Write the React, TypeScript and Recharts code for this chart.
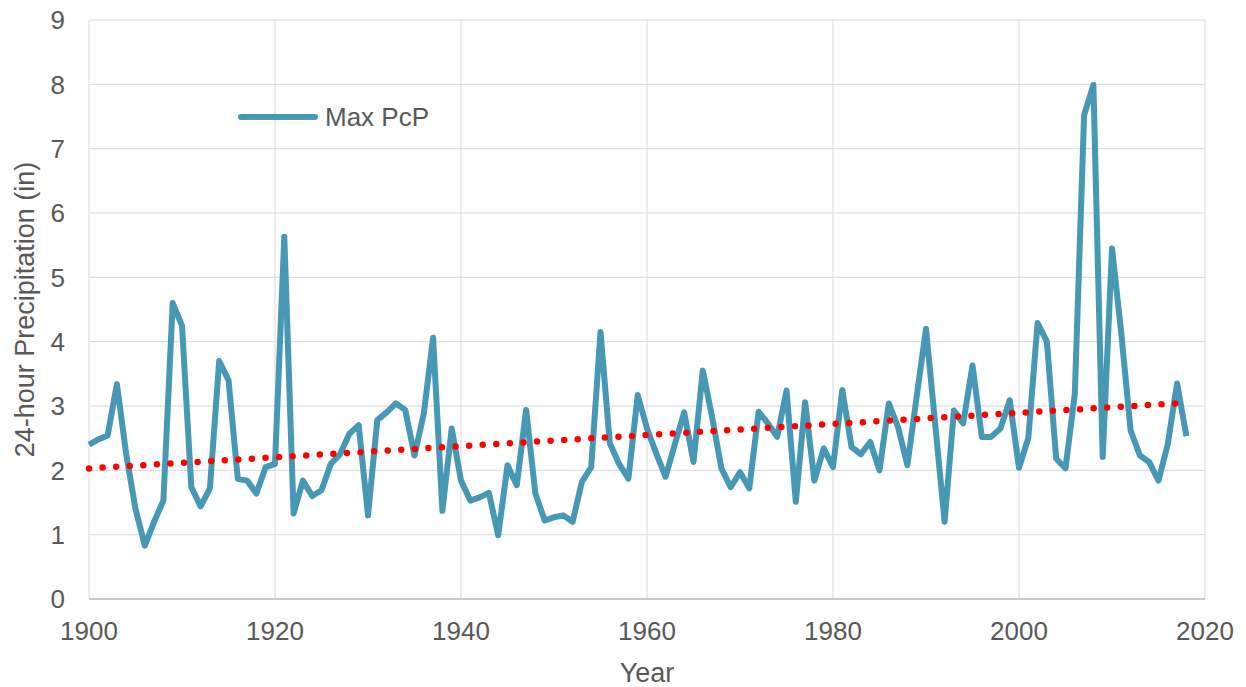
import React from 'react'
import {
  CartesianGrid,
  Legend,
  Line,
  LineChart,
  ReferenceLine,
  XAxis,
  YAxis
} from 'recharts'

// years of record
const years = [
  1900, 1901, 1902, 1903, 1904, 1905, 1906, 1907, 1908, 1909,
  1910, 1911, 1912, 1913, 1914, 1915, 1916, 1917, 1918, 1919,
  1920, 1921, 1922, 1923, 1924, 1925, 1926, 1927, 1928, 1929,
  1930, 1931, 1932, 1933, 1934, 1935, 1936, 1937, 1938, 1939,
  1940, 1941, 1942, 1943, 1944, 1945, 1946, 1947, 1948, 1949,
  1950, 1951, 1952, 1953, 1954, 1955, 1956, 1957, 1958, 1959,
  1960, 1961, 1962, 1963, 1964, 1965, 1966, 1967, 1968, 1969,
  1970, 1971, 1972, 1973, 1974, 1975, 1976, 1977, 1978, 1979,
  1980, 1981, 1982, 1983, 1984, 1985, 1986, 1987, 1988, 1989,
  1990, 1991, 1992, 1993, 1994, 1995, 1996, 1997, 1998, 1999,
  2000, 2001, 2002, 2003, 2004, 2005, 2006, 2007, 2008, 2009,
  2010, 2011, 2012, 2013, 2014, 2015, 2016, 2017, 2018
]

// max 24-hour precipitation (in)
const maxPcp = [
  2.4, 2.48, 2.54, 3.34, 2.25, 1.4, 0.83, 1.2, 1.53, 4.6,
  4.25, 1.74, 1.44, 1.72, 3.7, 3.4, 1.87, 1.84, 1.64, 2.05,
  2.1, 5.63, 1.33, 1.84, 1.6, 1.69, 2.1, 2.25, 2.57, 2.7,
  1.3, 2.78, 2.9, 3.04, 2.94, 2.23, 2.88, 4.06, 1.37, 2.65,
  1.84, 1.53, 1.58, 1.65, 0.99, 2.08, 1.77, 2.94, 1.64, 1.22,
  1.27, 1.3, 1.2, 1.82, 2.05, 4.15, 2.42, 2.1, 1.87, 3.17,
  2.65, 2.26, 1.9, 2.41, 2.9, 2.13, 3.55, 2.83, 2.03, 1.74,
  1.97, 1.72, 2.91, 2.73, 2.52, 3.24, 1.51, 3.06, 1.84, 2.34,
  2.05, 3.25, 2.36, 2.25, 2.44, 2.0, 3.04, 2.67, 2.08, 3.15,
  4.2, 2.7, 1.2, 2.93, 2.73, 3.63, 2.52, 2.52, 2.65, 3.09,
  2.04, 2.5, 4.29, 4.0, 2.18, 2.03, 3.19, 7.52, 7.99, 2.21,
  5.45, 4.13, 2.62, 2.23, 2.13, 1.84, 2.41, 3.35, 2.53
]

// linear trend end points
const trendStart = { year: 1900, value: 2.03 }
const trendEnd = { year: 2018, value: 3.05 }

const xTicks = [1900, 1920, 1940, 1960, 1980, 2000, 2020]
const yTicks = [0, 1, 2, 3, 4, 5, 6, 7, 8, 9]

const data = years.map((year, i) => ({ year, maxPcp: maxPcp[i] }))

const FONT = '"Liberation Sans", Arial, sans-serif'
const TEXT = '#595959'
const BLUE = '#4698B5'

function YTitle(props: any) {
  const { viewBox } = props
  const x = viewBox.x + 24
  const y = viewBox.y + viewBox.height / 2
  return (
    <text
      x={x}
      y={y}
      dy="0.36em"
      transform={`rotate(-90 ${x} ${y})`}
      textAnchor="middle"
      fill={TEXT}
      fontSize={27}
      fontFamily={FONT}
    >
      24-hour Precipitation (in)
    </text>
  )
}

function XTitle(props: any) {
  const { viewBox } = props
  const x = viewBox.x + viewBox.width / 2
  const y = viewBox.y + 73
  return (
    <text
      x={x}
      y={y}
      dy="0.36em"
      textAnchor="middle"
      fill={TEXT}
      fontSize={27}
      fontFamily={FONT}
    >
      Year
    </text>
  )
}

function LegendBox() {
  return (
    <div style={{ display: 'flex', alignItems: 'center', height: 30 }}>
      <svg width={80} height={10} style={{ display: 'block' }}>
        <line
          x1={3}
          y1={5}
          x2={77}
          y2={5}
          stroke={BLUE}
          strokeWidth={6}
          strokeLinecap="round"
        />
      </svg>
      <span
        style={{
          marginLeft: 7,
          fontSize: 26,
          fontFamily: FONT,
          color: TEXT,
          lineHeight: '30px',
          whiteSpace: 'nowrap'
        }}
      >
        Max PcP
      </span>
    </div>
  )
}

export default function App() {
  // shift over the body margin so the svg covers the whole window
  return (
    <div style={{ position: 'relative', top: -8, left: -8 }}>
      <LineChart
        width={1246}
        height={687}
        data={data}
        margin={{ top: 20, right: 41, left: 0, bottom: 0 }}
      >
        <CartesianGrid stroke="#d9d9d9" strokeWidth={1} />
        <XAxis
          type="number"
          dataKey="year"
          domain={[1900, 2020]}
          ticks={xTicks}
          interval={0}
          height={88}
          tickLine={false}
          axisLine={{ stroke: '#bfbfbf', strokeWidth: 1.5 }}
          tickMargin={17}
          tick={{ fill: TEXT, fontSize: 26, fontFamily: FONT }}
          label={<XTitle />}
        />
        <YAxis
          type="number"
          domain={[0, 9]}
          ticks={yTicks}
          interval={0}
          width={89}
          tickLine={false}
          axisLine={false}
          tickMargin={18}
          tick={{ fill: TEXT, fontSize: 26, fontFamily: FONT }}
          label={<YTitle />}
        />
        <Legend
          layout="vertical"
          verticalAlign="middle"
          align="center"
          wrapperStyle={{ left: 238, top: 102, width: 'auto' }}
          content={<LegendBox />}
        />
        <Line
          type="linear"
          dataKey="maxPcp"
          name="Max PcP"
          stroke={BLUE}
          strokeWidth={6}
          strokeLinejoin="round"
          dot={false}
          activeDot={false}
          isAnimationActive={false}
        />
        <ReferenceLine
          segment={[
            { x: trendStart.year, y: trendStart.value },
            { x: trendEnd.year, y: trendEnd.value }
          ]}
          stroke="#ff0000"
          strokeWidth={6.5}
          strokeDasharray="0 13.6"
          strokeLinecap="round"
          ifOverflow="visible"
        />
      </LineChart>
    </div>
  )
}
